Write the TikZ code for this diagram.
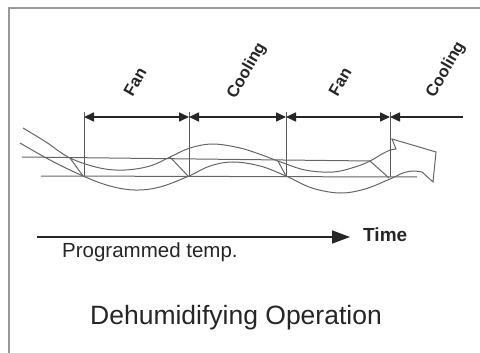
\documentclass[tikz,border=0pt]{standalone}
\usepackage{fontspec}
\setmainfont{Liberation Sans}
\usetikzlibrary{arrows.meta, positioning}

\begin{document}
\begin{tikzpicture}[
    x=1pt, y=-1pt,
    every node/.style={inner sep=0pt, text=black!85},
    phase/.style={font=\bfseries\fontsize{16.5}{16.5}\selectfont, rotate=60},
    span/.style={{Triangle[length=10pt,width=9pt]}-{Triangle[length=10pt,width=9pt]}, line width=1.6pt, black!85},
    tick/.style={line width=0.8pt, black!65},
    wave/.style={line width=1pt, black!60},
    level/.style={line width=1pt, black!60},
    frame/.style={line width=2pt, black!40}
]
\useasboundingbox (0,0) rectangle (480,353);

% ------------------------
% Frame
% ------------------------
\draw[frame] (480,8.5) -- (9,8.5) -- (9,353);

% ------------------------
% Phase marks
% ------------------------
\foreach \n/\x in {1/84, 2/189, 3/286, 4/390} {
    \coordinate (t\n) at (\x,117);
    \coordinate (b\n) at (\x,177);
    \draw[tick] (\x,112) -- (b\n);
}
\coordinate (t5) at (463,117);

\draw[span] (t1) -- (t2);
\draw[span] (t2) -- (t3);
\draw[span] (t3) -- (t4);
\draw[span, {Triangle[length=10pt,width=9pt]}-] (t4) -- (t5);

\node[phase] (fan1) at (135,82) {Fan};
\node[phase] (cool1) at (247,71) {Cooling};
\node[phase] (fan2) at (340,82) {Fan};
\node[phase] (cool2) at (446,70) {Cooling};

% ------------------------
% Levels and waves
% ------------------------
\draw[level] (22,157) -- (370,161);
\draw[level] (41,176) -- (417,177);

\draw[wave] plot[smooth, tension=0.6] coordinates {
    (23,128) (46,142) (70,158) (100,168) (125,170) (150,166) (170,157)
    (190,148) (213,144) (240,148) (262,155) (278,161) (305,170)
    (333,172) (355,167) (370,161) (382,154) (390,150)}
    -- (396,149) -- (392,139) -- (436,152) -- (433,182) -- (422,172)
    plot[smooth, tension=0.6] coordinates {
    (422,172) (413,171) (403,173) (390,179) (365,189) (340,193)
    (312,188) (286,176) (260,166) (233,162) (210,166) (189,176)
    (160,187) (135,190) (110,186) (83,176) (50,160) (20,143)};

\draw[wave] (70,158) -- (83,176);
\draw[wave] (170,157) -- (188,176);
\draw[wave] (278,161) -- (286,176);
\draw[wave] (370,161) -- (389,178);

% ------------------------
% Time axis and captions
% ------------------------
\coordinate (axisstart) at (37,237);
\coordinate (axisend) at (350,237);
\draw[-{Triangle[length=18pt,width=13pt]}, line width=1.6pt, black!85] (axisstart) -- (axisend);

\node[anchor=west, font=\bfseries\fontsize{19}{19}\selectfont] (time) at (363,235) {Time};
\node[anchor=base west, font=\fontsize{20.5}{20.5}\selectfont] (settemp) at (62,257) {Programmed temp.};
\node[anchor=base, font=\fontsize{26.5}{26.5}\selectfont] (title) at (236,324) {Dehumidifying Operation};

\end{tikzpicture}
\end{document}
